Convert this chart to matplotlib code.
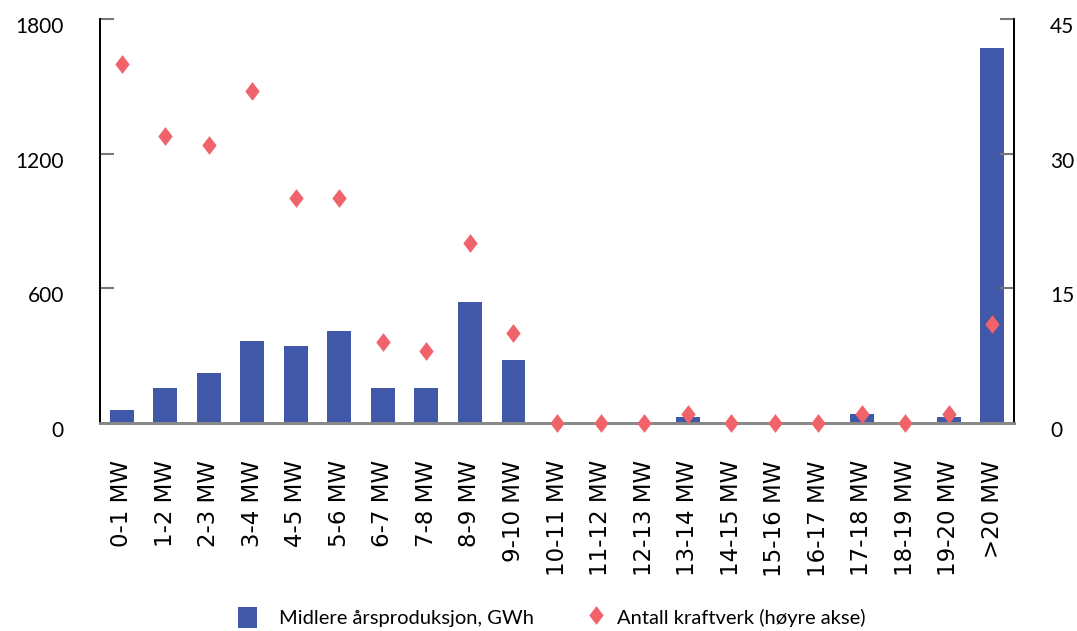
import matplotlib.pyplot as plt
import numpy as np
from matplotlib.lines import Line2D
from matplotlib.patches import Patch
from matplotlib.transforms import ScaledTranslation

plt.rcParams["font.family"] = ["Lato", "DejaVu Sans"]

categories = ["0-1 MW", "1-2 MW", "2-3 MW", "3-4 MW", "4-5 MW", "5-6 MW",
              "6-7 MW", "7-8 MW", "8-9 MW", "9-10 MW", "10-11 MW", "11-12 MW",
              "12-13 MW", "13-14 MW", "14-15 MW", "15-16 MW", "16-17 MW",
              "17-18 MW", "18-19 MW", "19-20 MW", ">20 MW"]
production_gwh = [55, 155, 223, 366, 340, 411, 156, 156, 536, 281,
                  0, 0, 0, 27, 0, 0, 0, 40, 0, 27, 1671]
plant_count = [40, 32, 31, 37, 25, 25, 9, 8, 20, 10,
               0, 0, 0, 1, 0, 0, 0, 1, 0, 1, 11]

bar_color = "#4157a7"
dot_color = "#f0636a"
diamond = [(0, 1), (0.765, 0), (0, -1), (-0.765, 0), (0, 1)]

fig = plt.figure(figsize=(10.77, 6.31), dpi=100)
ax = fig.add_axes([100 / 1077, 1 - 422.7 / 631, 914 / 1077, 403.7 / 631])
ax2 = ax.twinx()

x = np.arange(len(categories))
ax.bar(x, production_gwh, width=0.55, color=bar_color, zorder=2)
ax2.plot(x, plant_count, linestyle="none", marker=diamond, markersize=13.5,
         markeredgewidth=0, color=dot_color, zorder=3, clip_on=False)

ax.set_xlim(-0.5, len(categories) - 0.5)
ax.set_ylim(0, 1800)
ax.set_yticks([0, 600, 1200, 1800])
ax2.set_ylim(0, 45)
ax2.set_yticks([0, 15, 30, 45])

ax.set_xticks(x, categories, rotation=90)
ax.tick_params(axis="x", length=0, pad=27, labelsize=16.5)
for lab in ax.get_xticklabels():
    lab.set_fontfamily("DejaVu Sans")

for a in (ax, ax2):
    a.tick_params(axis="y", direction="in", length=10, width=1.5,
                  color="#777777", pad=26, labelsize=15)
    a.spines["top"].set_visible(False)
    a.spines["bottom"].set_color("#888888")
    a.spines["bottom"].set_linewidth(2)
    a.spines["left"].set_linewidth(1.3)
    a.spines["right"].set_linewidth(1.3)
    # labels sit a little below their ticks in the original
    for lab in a.get_yticklabels():
        lab.set_transform(lab.get_transform()
                          + ScaledTranslation(0, -0.06, fig.dpi_scale_trans))

ax2.set_zorder(ax.zorder + 1)
ax.patch.set_visible(False)

bar_handle = Patch(facecolor=bar_color, label="Midlere årsproduksjon, GWh")
dot_handle = Line2D([], [], linestyle="none", marker=diamond, markersize=13.5,
                    markeredgewidth=0, color=dot_color,
                    label="Antall kraftverk (høyre akse)")

legend_style = dict(loc="lower left", frameon=False, fontsize=14.5,
                    handlelength=0.95, handleheight=1.25,
                    borderpad=0.0, borderaxespad=0.0)
fig.legend(handles=[bar_handle], bbox_to_anchor=(238 / 1077, 0.005),
           handletextpad=1.1, **legend_style)
fig.legend(handles=[dot_handle], bbox_to_anchor=(586 / 1077, 0.005),
           handletextpad=0.6, **legend_style)

fig.savefig("out.png", dpi=100)
